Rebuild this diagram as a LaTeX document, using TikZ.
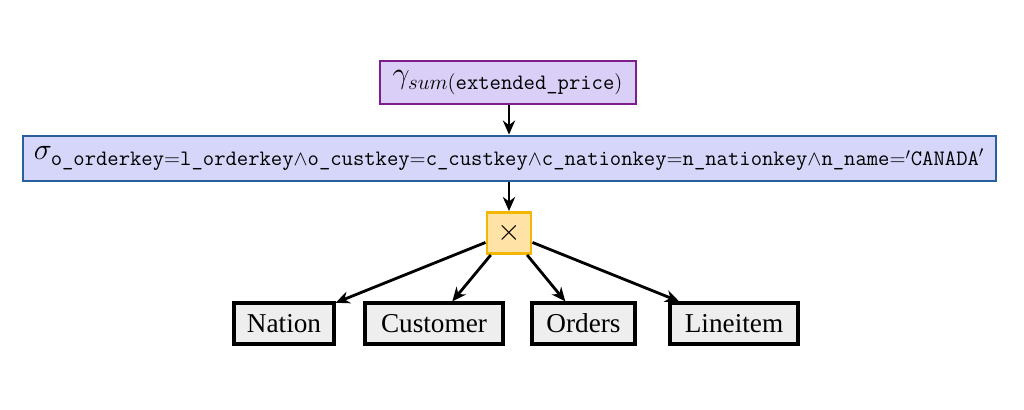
\documentclass[tikz,border=0pt]{standalone}
\usepackage{amsmath,amssymb}
\usepackage{fontspec}
\usepackage{xcolor}
\usepackage{tikz}
\usetikzlibrary{arrows.meta}
\newfontfamily\leaffont{Liberation Serif}
\definecolor{aggfill}{HTML}{D9CFF7}
\definecolor{aggline}{HTML}{7E1E8C}
\definecolor{selfill}{HTML}{D6D6FA}
\definecolor{selline}{HTML}{2A5F9E}
\definecolor{crossfill}{HTML}{FFE3A6}
\definecolor{crossline}{HTML}{F2B705}
\definecolor{relfill}{HTML}{EEEEEE}
\tikzset{
  agg/.style={draw=aggline, fill=aggfill, line width=1.7pt, minimum width=5.12cm, minimum height=0.86cm, inner sep=0pt},
  sel/.style={draw=selline, fill=selfill, line width=1.6pt, minimum width=19.46cm, minimum height=0.9cm, inner sep=0pt},
  crossop/.style={draw=crossline, fill=crossfill, line width=1.7pt, minimum width=0.88cm, minimum height=0.82cm, inner sep=0pt, font=\fontsize{16}{18}\selectfont},
  rel/.style={draw=black, fill=relfill, line width=1.8pt, minimum height=0.82cm, inner sep=0pt, font=\leaffont\fontsize{15.5}{18}\selectfont},
  edge/.style={-{Stealth[length=8pt,width=7pt]}, line width=1.6pt}
}
\begin{document}
\begin{tikzpicture}[font=\fontsize{17.9}{21}\selectfont]
  \useasboundingbox (0,0) rectangle (20.48,-8.2);

  \node[agg] (gamma) at (10.16,-1.65) {$\gamma_{sum(\texttt{extended\_price})}$};
  \node[sel] (sigma) at (10.19,-3.17)
    {$\sigma_{\texttt{o\_orderkey}=\texttt{l\_orderkey}\wedge\texttt{o\_custkey}=\texttt{c\_custkey}\wedge\texttt{c\_nationkey}=\texttt{n\_nationkey}\wedge\texttt{n\_name}='\texttt{CANADA}'}$};
  \node[crossop] (cross) at (10.18,-4.66) {$\times$};

  % base relations
  \node[rel, minimum width=2.00cm] (nation) at (5.68,-6.47) {Nation};
  \node[rel, minimum width=2.76cm] (customer) at (8.68,-6.47) {Customer};
  \node[rel, minimum width=2.06cm] (orders) at (11.67,-6.47) {Orders};
  \node[rel, minimum width=2.56cm] (lineitem) at (14.68,-6.47) {Lineitem};

  \draw[edge] (gamma.south -| cross) -- (sigma.north -| cross);
  \draw[edge] (sigma.south -| cross) -- (cross.north);
  \foreach \r in {nation,customer,orders,lineitem}
    \draw[edge] (cross) -- (\r);
\end{tikzpicture}
\end{document}
